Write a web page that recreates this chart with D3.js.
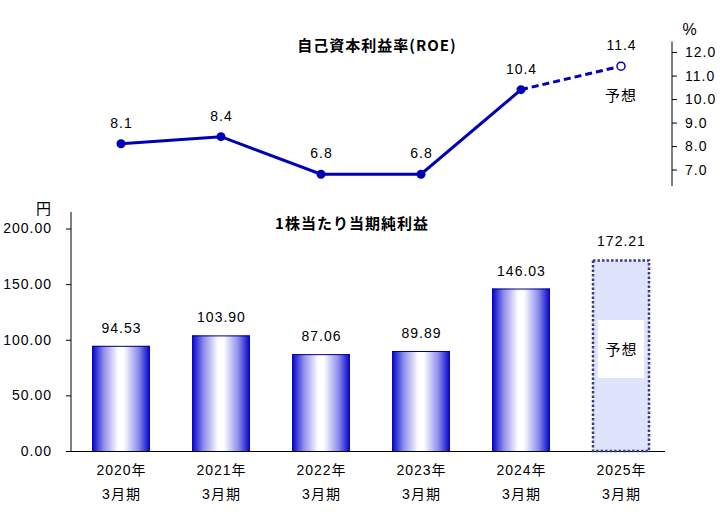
<!DOCTYPE html>
<html><head><meta charset="utf-8">
<script src="https://cdn.jsdelivr.net/npm/d3@7"></script>
<style>
body{margin:0;background:#fff;}
text{font-family:"Liberation Sans","Noto Sans CJK JP",sans-serif;letter-spacing:1px;}
</style></head>
<body><svg id="c" width="720" height="530"></svg>
<script>
const years = ["2020年","2021年","2022年","2023年","2024年","2025年"];
const periodLabel = "3月期";
const epsValues = [94.53, 103.90, 87.06, 89.89, 146.03, 172.21];
const roeValues = [8.1, 8.4, 6.8, 6.8, 10.4, 11.4];
const epsTicks = [0, 50, 100, 150, 200];
const roeTicks = [7, 8, 9, 10, 11, 12];
const forecastIndex = 5;

const svg = d3.select("#c");
const fs = 14;
const cjk = "\"Noto Sans CJK JP\",sans-serif";

const defs = svg.append("defs");
const g = defs.append("linearGradient").attr("id","barGrad").attr("x1","0%").attr("x2","100%").attr("y1","0%").attr("y2","0%");
[[0,"#0000c8"],[0.2,"#8c8cec"],[0.45,"#ffffff"],[0.55,"#ffffff"],[0.8,"#8c8cec"],[1,"#0000c8"]].forEach(([o,c])=>g.append("stop").attr("offset",o).attr("stop-color",c));

const x = d3.scaleBand().domain(years).range([71,671]).paddingInner(0.42).paddingOuter(0.21);
const cx = d => x(d)+x.bandwidth()/2;

// ---- Bottom chart ----
const y = d3.scaleLinear().domain([0,200]).range([451,228.5]);
const yAxis = d3.axisLeft(y).tickValues(epsTicks).tickFormat(d3.format(".2f")).tickSize(5).tickSizeOuter(0);
const ya = svg.append("g").attr("transform","translate(71,0)").call(yAxis);
ya.select(".domain").remove();
ya.selectAll("line").attr("stroke","#000");
ya.selectAll("text").attr("font-size",fs).attr("fill","#000").attr("x",-19).attr("font-family",null);
svg.append("line").attr("x1",71).attr("x2",71).attr("y1",212).attr("y2",451).attr("stroke","#000");
svg.append("line").attr("x1",71).attr("x2",665).attr("y1",451.5).attr("y2",451.5).attr("stroke","#000");
svg.append("text").attr("x",44).attr("y",214).attr("font-size",15).attr("text-anchor","middle").style("font-family",cjk).text("円");
svg.append("text").attr("x",352).attr("y",229).attr("font-size",15).attr("font-weight","bold").attr("text-anchor","middle").style("font-family",cjk).text("1株当たり当期純利益");

const bw = 58;
epsValues.forEach((v,i)=>{
  const bx = cx(years[i]) - bw/2;
  if(i===forecastIndex){
    svg.append("rect").attr("x",bx+1).attr("y",y(v)+1).attr("width",bw-2).attr("height",y(0)-y(v)-1)
      .attr("fill","#dfe4fc").attr("stroke","#3a3a8c").attr("stroke-width",2.5).attr("stroke-dasharray","2.5,2");
    svg.append("rect").attr("x",cx(years[i])-23).attr("y",320).attr("width",46).attr("height",58).attr("fill","#fff");
    svg.append("text").attr("x",cx(years[i])+0.5).attr("y",355).attr("font-size",15).attr("text-anchor","middle").style("font-family",cjk).text("予想");
  } else {
    svg.append("rect").attr("x",bx).attr("y",y(v)).attr("width",bw).attr("height",y(0)-y(v)).attr("fill","url(#barGrad)");
    svg.append("line").attr("x1",bx).attr("x2",bx+bw).attr("y1",y(v)+0.5).attr("y2",y(v)+0.5).attr("stroke","#000088");
  }
  svg.append("text").attr("x",cx(years[i])+0.5).attr("y",y(v)-13).attr("font-size",fs).attr("text-anchor","middle").text(d3.format(".2f")(v));
  svg.append("text").attr("x",cx(years[i])+0.5).attr("y",475).attr("font-size",fs).attr("text-anchor","middle").text(years[i]);
  svg.append("text").attr("x",cx(years[i])+0.5).attr("y",499).attr("font-size",fs).attr("text-anchor","middle").text(periodLabel);
});

// ---- Top chart ----
const yr = d3.scaleLinear().domain([6.3,12.45]).range([186,41.5]);
const rAxis = d3.axisRight(yr).tickValues(roeTicks).tickFormat(d3.format(".1f")).tickSize(5).tickSizeOuter(0);
const ra = svg.append("g").attr("transform","translate(672,0)").call(rAxis);
ra.select(".domain").remove();
ra.selectAll("line").attr("stroke","#000");
ra.selectAll("text").attr("font-size",fs).attr("fill","#000").attr("x",13).attr("font-family",null);
svg.append("line").attr("x1",672).attr("x2",672).attr("y1",41.5).attr("y2",186).attr("stroke","#000");
svg.append("text").attr("x",690).attr("y",35).attr("font-size",16).attr("text-anchor","middle").text("%");
svg.append("text").attr("x",377).attr("y",51).attr("font-size",15).attr("font-weight","bold").attr("text-anchor","middle").style("font-family",cjk).text("自己資本利益率(ROE)");

const pts = roeValues.map((v,i)=>[cx(years[i]), yr(v)]);
const line = d3.line();
svg.append("path").attr("d",line(pts.slice(0,forecastIndex))).attr("fill","none").attr("stroke","#0000b4").attr("stroke-width",3);
svg.append("path").attr("d",line(pts.slice(forecastIndex-1))).attr("fill","none").attr("stroke","#0000b4").attr("stroke-width",3).attr("stroke-dasharray","7,4");
roeValues.forEach((v,i)=>{
  const [px,py] = pts[i];
  if(i===forecastIndex){
    svg.append("circle").attr("cx",px).attr("cy",py).attr("r",4).attr("fill","#fff").attr("stroke","#0000b4").attr("stroke-width",1.5);
    svg.append("text").attr("x",px).attr("y",py+35).attr("font-size",15).attr("text-anchor","middle").style("font-family",cjk).text("予想");
  } else {
    svg.append("circle").attr("cx",px).attr("cy",py).attr("r",4.5).attr("fill","#0000b4");
  }
  svg.append("text").attr("x",px+0.5).attr("y",py-16).attr("font-size",fs).attr("text-anchor","middle").text(d3.format(".1f")(v));
});
</script></body></html>
